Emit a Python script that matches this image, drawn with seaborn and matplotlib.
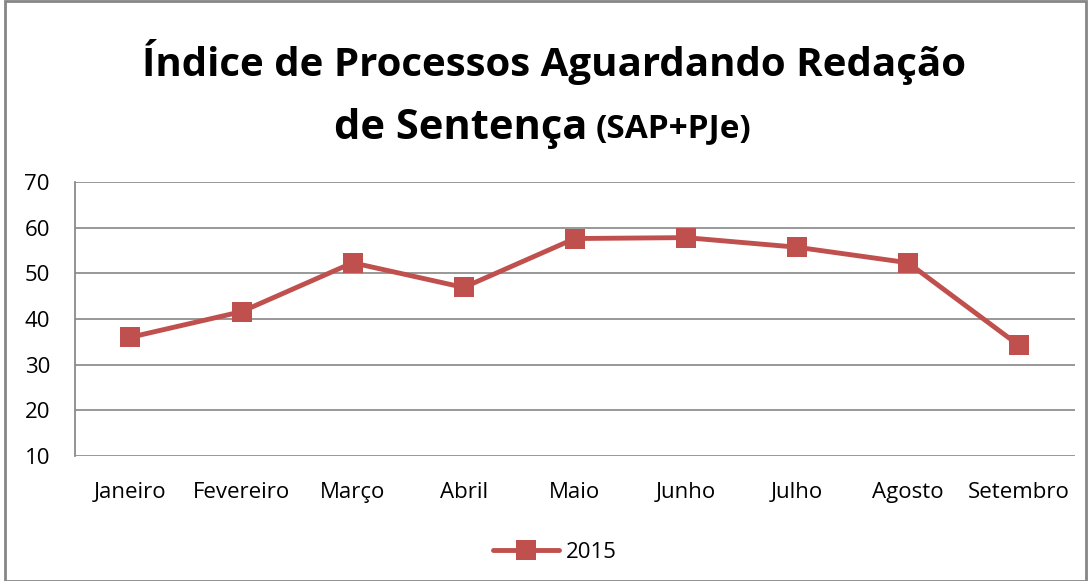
import pandas as pd
import matplotlib.pyplot as plt
import seaborn as sns
from matplotlib.patches import Rectangle

# dados
meses = ['Janeiro', 'Fevereiro', 'Março', 'Abril', 'Maio', 'Junho',
         'Julho', 'Agosto', 'Setembro']
valores_2015 = [36.0, 41.6, 52.3, 46.9, 57.6, 57.8, 55.7, 52.3, 34.2]

df = pd.DataFrame({'Mês': meses, 'Índice': valores_2015, 'Ano': '2015'})

sns.set_theme(style='white')
plt.rcParams['font.family'] = ['Open Sans', 'DejaVu Sans']
plt.rcParams['text.color'] = 'black'

fig = plt.figure(figsize=(10.91, 5.81), dpi=100)
ax = fig.add_axes([0.0687, 0.215, 0.9163, 0.472])

sns.lineplot(data=df, x='Mês', y='Índice', hue='Ano', palette=['#C0504D'],
             marker='s', markersize=14, markeredgewidth=0, linewidth=3.5,
             sort=False, ax=ax)

ax.set_ylim(10, 70)
ax.set_yticks(range(10, 71, 10))
ax.set_xlim(-0.5, 8.5)
ax.set_xlabel('')
ax.set_ylabel('')
ax.yaxis.grid(True, color='#868686', linewidth=1.2)
ax.xaxis.grid(False)
for s in ['top', 'right', 'bottom']:
    ax.spines[s].set_visible(False)
ax.spines['left'].set_color('#868686')
ax.tick_params(axis='both', labelsize=16, colors='black', length=0)
ax.tick_params(axis='x', pad=19)
ax.tick_params(axis='y', pad=18)

ax.legend(loc='upper center', bbox_to_anchor=(0.48, -0.24), frameon=False,
          fontsize=16, handlelength=3, handletextpad=0.3)

# titulo
fig.text(0.508, 0.893, 'Índice de Processos Aguardando Redação',
         ha='center', va='center', fontsize=29, fontweight='bold', color='black')
fig.text(0.538, 0.778, 'de Sentença', ha='right', va='center',
         fontsize=30, fontweight='bold', color='black')
fig.text(0.546, 0.778, '(SAP+PJe)', ha='left', va='center',
         fontsize=24, fontweight='bold', color='black')

fig.patches.append(Rectangle((0.005, 0.0), 0.99, 0.998, transform=fig.transFigure,
                             fill=False, edgecolor='#868686', linewidth=2))

fig.savefig('out.png', dpi=100)
